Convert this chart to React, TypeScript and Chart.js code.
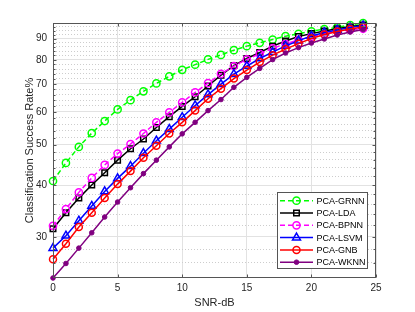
import React, { useEffect, useRef } from 'react';
import { Chart, registerables } from 'chart.js';

Chart.register(...registerables);

// ---------- data ----------
const SNR_DB = [0, 1, 2, 3, 4, 5, 6, 7, 8, 9, 10, 11, 12, 13, 14, 15, 16, 17, 18, 19, 20, 21, 22, 23, 24];
const PCA_GRNN = [40.9, 45.2, 49.4, 53.3, 57.0, 60.8, 64.0, 67.2, 70.2, 73.0, 75.7, 77.9, 80.2, 82.2, 84.4, 86.3, 87.9, 89.5, 91.2, 92.4, 93.7, 94.8, 95.8, 97.0, 98.1];
const PCA_LDA = [31.4, 34.3, 37.2, 40.0, 42.8, 45.9, 48.9, 51.6, 55.0, 58.4, 61.8, 65.2, 69.2, 73.5, 77.5, 80.6, 83.3, 86.3, 88.8, 91.0, 92.5, 93.8, 95.0, 96.2, 97.0];
const PCA_BPNN = [31.9, 35.0, 38.4, 41.6, 44.7, 47.6, 50.2, 53.2, 56.6, 59.8, 63.2, 66.8, 70.3, 74.0, 77.3, 80.2, 82.7, 85.3, 87.4, 89.3, 91.0, 92.3, 93.6, 94.4, 95.0];
const PCA_LSVM = [28.2, 30.2, 32.8, 35.6, 38.6, 41.5, 44.4, 47.7, 51.1, 54.5, 58.2, 62.1, 66.0, 69.9, 73.9, 77.3, 80.6, 83.5, 86.4, 89.0, 91.3, 93.1, 94.4, 95.7, 96.7];
const PCA_GNB = [26.5, 28.9, 31.7, 34.3, 37.2, 40.2, 43.2, 46.5, 49.7, 53.2, 56.6, 60.4, 64.5, 68.2, 72.1, 75.6, 79.0, 82.1, 84.9, 87.5, 90.0, 92.0, 93.6, 94.9, 95.9];
const PCA_WKNN = [23.9, 25.9, 28.2, 30.7, 33.5, 36.4, 39.4, 42.6, 45.9, 49.4, 53.1, 56.6, 60.4, 64.2, 68.7, 72.6, 76.3, 80.1, 83.1, 85.6, 87.8, 89.8, 91.8, 93.3, 94.6];

const SERIES_LABELS = ['PCA-GRNN', 'PCA-LDA', 'PCA-BPNN', 'PCA-LSVM', 'PCA-GNB', 'PCA-WKNN'];
const SERIES_VALUES = [PCA_GRNN, PCA_LDA, PCA_BPNN, PCA_LSVM, PCA_GNB, PCA_WKNN];

const X_TICKS = [0, 5, 10, 15, 20, 25];
const Y_TICKS = [30, 40, 50, 60, 70, 80, 90];
const Y_TICK_LABELS = ['30', '40', '50', '60', '70', '80', '90'];
const Y_MIN = 23.9;
const Y_MAX = 98.1;
const X_TITLE = 'SNR-dB';
const Y_TITLE = 'Classification Success Rate%';

// ---------- styles ----------
const FONT = "'Liberation Sans', Arial, Helvetica, sans-serif";
const TEXT_COLOR = '#262626';
const AXIS_COLOR = '#555555';
const MAJOR_GRID = '#e2e2e2';
const MINOR_GRID = '#cdcdcd';

type Style = { color: string; dash: number[]; point: string; radius: number; filled: boolean };
const STYLES: Style[] = [
  { color: '#00ff00', dash: [5, 3], point: 'circle', radius: 3.6, filled: false },
  { color: '#000000', dash: [], point: 'rect', radius: 3.9, filled: false },
  { color: '#ff00ff', dash: [5, 3], point: 'circle', radius: 3.6, filled: false },
  { color: '#0000ff', dash: [], point: 'triangle', radius: 4.6, filled: false },
  { color: '#ff0000', dash: [], point: 'circle', radius: 3.5, filled: false },
  { color: '#800080', dash: [], point: 'circle', radius: 2.3, filled: true },
];

function minorValues(): number[] {
  const out: number[] = [];
  for (let v = 24; v <= 98; v += 2) if (!Y_TICKS.includes(v)) out.push(v);
  return out;
}

function drawMarker(ctx: CanvasRenderingContext2D, s: Style, x: number, y: number) {
  ctx.save();
  ctx.setLineDash([]);
  ctx.lineWidth = s.filled ? 1 : 1.5;
  ctx.strokeStyle = s.color;
  ctx.fillStyle = s.color;
  ctx.beginPath();
  const r = s.radius;
  if (s.point === 'circle') {
    ctx.arc(x, y, r, 0, Math.PI * 2);
  } else if (s.point === 'rect') {
    const h = Math.SQRT1_2 * r;
    ctx.rect(x - h, y - h, 2 * h, 2 * h);
  } else {
    for (let k = 0; k < 3; k++) {
      const a = (k * 2 * Math.PI) / 3;
      const px = x + Math.sin(a) * r;
      const py = y - Math.cos(a) * r;
      if (k === 0) ctx.moveTo(px, py);
      else ctx.lineTo(px, py);
    }
    ctx.closePath();
  }
  if (s.filled) ctx.fill();
  ctx.stroke();
  ctx.restore();
}

const decorPlugin = {
  id: 'matlabDecor',
  afterDraw(chart: any) {
    const { ctx, chartArea: a, scales } = chart;
    const xs = scales.x;
    const ys = scales.y;
    ctx.save();
    // y tick labels (positioned by the log scale)
    ctx.font = `10px ${FONT}`;
    ctx.fillStyle = TEXT_COLOR;
    ctx.textAlign = 'right';
    ctx.textBaseline = 'middle';
    Y_TICKS.forEach((v, i) => {
      ctx.fillText(Y_TICK_LABELS[i], a.left - 6, ys.getPixelForValue(v));
    });
    // box
    ctx.strokeStyle = AXIS_COLOR;
    ctx.lineWidth = 1;
    ctx.setLineDash([]);
    const L = Math.round(a.left) + 0.5;
    const R = Math.round(a.right) - 0.5;
    const T = Math.round(a.top) + 0.5;
    const B = Math.round(a.bottom) - 0.5;
    ctx.strokeRect(L, T, R - L, B - T);
    // inward ticks
    ctx.beginPath();
    X_TICKS.forEach((v) => {
      const px = Math.round(xs.getPixelForValue(v)) + 0.5;
      ctx.moveTo(px, B);
      ctx.lineTo(px, B - 3);
      ctx.moveTo(px, T);
      ctx.lineTo(px, T + 3);
    });
    [...Y_TICKS, ...minorValues()].forEach((v) => {
      const py = Math.round(ys.getPixelForValue(v)) + 0.5;
      const len = Y_TICKS.includes(v) ? 3 : 2;
      ctx.moveTo(L, py);
      ctx.lineTo(L + len, py);
      ctx.moveTo(R, py);
      ctx.lineTo(R - len, py);
    });
    ctx.stroke();

    // legend
    const bx = 277.5, by = 192.5, bw = 90, bh = 76;
    ctx.fillStyle = '#ffffff';
    ctx.fillRect(bx, by, bw, bh);
    ctx.strokeStyle = AXIS_COLOR;
    ctx.lineWidth = 1;
    ctx.strokeRect(bx, by, bw, bh);
    ctx.font = `9px ${FONT}`;
    ctx.textBaseline = 'middle';
    ctx.textAlign = 'left';
    SERIES_LABELS.forEach((label, i) => {
      const s = STYLES[i];
      const y = 200.7 + i * 12.3;
      ctx.save();
      ctx.strokeStyle = s.color;
      ctx.lineWidth = 1.5;
      ctx.setLineDash(s.dash);
      ctx.beginPath();
      ctx.moveTo(280, y);
      ctx.lineTo(313, y);
      ctx.stroke();
      ctx.restore();
      drawMarker(ctx, s, 296.5, y);
      ctx.fillStyle = '#000000';
      ctx.fillText(label, 316.5, y + 0.5);
    });
    ctx.restore();
  },
};

export default function App() {
  const canvasRef = useRef<HTMLCanvasElement | null>(null);

  useEffect(() => {
    const canvas = canvasRef.current;
    if (!canvas) return;
    const datasets = SERIES_LABELS.map((label, i) => {
      const s = STYLES[i];
      return {
        label,
        data: SNR_DB.map((x, j) => ({ x, y: SERIES_VALUES[i][j] })),
        borderColor: s.color,
        backgroundColor: s.filled ? s.color : 'rgba(0,0,0,0)',
        borderWidth: 1.5,
        borderDash: s.dash,
        pointStyle: s.point,
        pointRadius: s.radius,
        pointBorderWidth: s.filled ? 1 : 1.5,
        pointBorderColor: s.color,
        pointBackgroundColor: s.filled ? s.color : 'rgba(0,0,0,0)',
        tension: 0,
        fill: false,
        clip: false,
        yAxisID: 'y',
        order: SERIES_LABELS.length - i,
      };
    });

    const chart = new Chart(canvas, {
      type: 'line',
      data: { datasets },
      options: {
        animation: false,
        responsive: false,
        devicePixelRatio: 1,
        layout: { padding: { left: 0, top: 23, right: 39, bottom: 0 } },
        plugins: { legend: { display: false }, tooltip: { enabled: false } },
        scales: {
          x: {
            type: 'linear',
            min: 0,
            max: 25,
            afterBuildTicks: (s: any) => {
              s.ticks = X_TICKS.map((v) => ({ value: v }));
            },
            afterFit: (s: any) => {
              s.height = 34;
            },
            ticks: {
              autoSkip: false,
              maxRotation: 0,
              padding: 4,
              color: TEXT_COLOR,
              font: { family: FONT, size: 10 },
            },
            grid: { color: MAJOR_GRID, lineWidth: 1, drawTicks: false },
            border: { display: false },
            title: {
              display: true,
              text: X_TITLE,
              color: TEXT_COLOR,
              font: { family: FONT, size: 11, lineHeight: 1.2 },
              padding: { top: 0, bottom: 2 },
            },
          },
          yMinor: {
            type: 'logarithmic',
            position: 'left',
            min: Y_MIN,
            max: Y_MAX,
            afterBuildTicks: (s: any) => {
              s.ticks = minorValues().map((v) => ({ value: v }));
            },
            afterFit: (s: any) => {
              s.width = 0;
            },
            ticks: { display: false, autoSkip: false },
            grid: { color: MINOR_GRID, lineWidth: 1, drawTicks: false },
            border: { display: false, dash: [1, 2] },
          },
          y: {
            type: 'logarithmic',
            position: 'left',
            min: Y_MIN,
            max: Y_MAX,
            afterBuildTicks: (s: any) => {
              s.ticks = Y_TICKS.map((v) => ({ value: v }));
            },
            afterFit: (s: any) => {
              s.width = 53;
            },
            ticks: { display: false, autoSkip: false },
            grid: { color: MAJOR_GRID, lineWidth: 1, drawTicks: false },
            border: { display: false },
            title: {
              display: true,
              text: Y_TITLE,
              color: TEXT_COLOR,
              font: { family: FONT, size: 11, lineHeight: 1.2 },
              padding: { top: 23, bottom: 0 },
            },
          },
        },
      },
      plugins: [decorPlugin],
    } as any);

    return () => chart.destroy();
  }, []);

  return (
    <div style={{ position: 'fixed', left: 0, top: 0, width: 415, height: 312, background: '#ffffff' }}>
      <canvas ref={canvasRef} width={415} height={312} />
    </div>
  );
}
